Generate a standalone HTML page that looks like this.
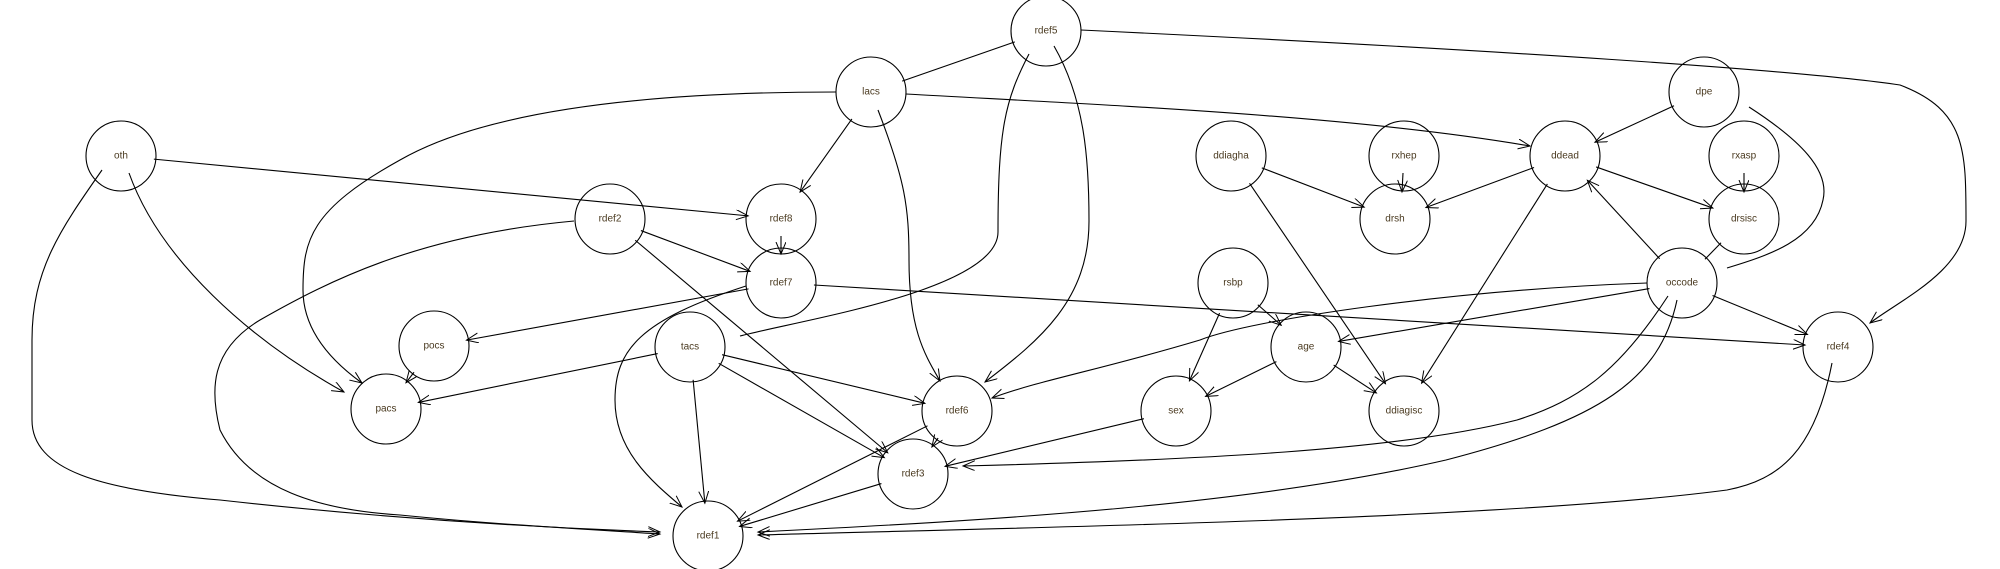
<!DOCTYPE html>
<html><head><meta charset="utf-8"><style>
html,body{margin:0;padding:0;background:#fff;width:2000px;height:569px;overflow:hidden}
svg{display:block}
text{font-family:"Liberation Sans",sans-serif;font-size:10px;fill:#4a3a20;text-anchor:middle;dominant-baseline:middle}
</style></head><body>
<svg id="g" width="2000" height="569" viewBox="0 0 2000 569">
<defs><marker id="a" markerUnits="userSpaceOnUse" markerWidth="14" markerHeight="12" refX="12" refY="5" orient="auto"><path d="M0,0 L12,5 L0,10" fill="none" stroke="#000" stroke-width="1"/></marker></defs>
<g id="edges" fill="none" stroke="#000" stroke-width="1.1">
<path d="M1081,30 C1500,50 1800,70 1900,85 C1966,110 1966,150 1966,221 C1966,270 1900,300 1870,323" marker-end="url(#a)"/>
<path d="M1054,46 C1085,100 1089,160 1089,221 C1089,300 1040,340 985,382" marker-end="url(#a)"/>
<path d="M1029,54 C1005,100 998,130 998,232 C998,290 800,320 740,336"/>
<path d="M836,92 C600,92 470,120 400,160 C310,210 303,240 303,290 C303,330 330,360 362,383" marker-end="url(#a)"/>
<path d="M878,110 C905,180 909,207 909,260 C909,330 925,355 940,381" marker-end="url(#a)"/>
<path d="M906,94 C1100,105 1350,115 1530,146" marker-end="url(#a)"/>
<path d="M102,170 C60,230 32,270 32,340 L32,420 C32,470 100,490 220,500 C400,520 550,528 660,532" marker-end="url(#a)"/>
<path d="M574,221 C420,235 330,280 260,320 C210,350 210,390 220,430 C250,490 320,510 400,515 C500,525 600,530 660,534" marker-end="url(#a)"/>
<path d="M746,286 C640,320 615,350 615,400 C615,450 650,480 682,507" marker-end="url(#a)"/>
<path d="M129,173 C160,260 250,340 344,392" marker-end="url(#a)"/>
<path d="M1749,107 C1800,140 1830,170 1823,200 C1815,240 1770,255 1727,268"/>
<path d="M1647,283 C1450,290 1250,320 1200,340 C1100,370 1040,380 992,398" marker-end="url(#a)"/>
<path d="M1668,296 C1620,370 1580,400 1517,420 C1400,450 1200,460 963,466" marker-end="url(#a)"/>
<path d="M1677,300 C1660,380 1600,420 1446,460 C1250,505 1000,520 758,532" marker-end="url(#a)"/>
<path d="M1832,363 C1815,450 1780,480 1727,490 C1500,520 1000,528 758,535" marker-end="url(#a)"/>
<line x1="781" y1="236" x2="781" y2="254" marker-end="url(#a)"/>
<line x1="1403" y1="173" x2="1402" y2="192" marker-end="url(#a)"/>
<line x1="1744" y1="173" x2="1744" y2="192" marker-end="url(#a)"/>
</g>
<g id="nodes" fill="none" stroke="#000" stroke-width="1.1">
<ellipse cx="1046" cy="31" rx="35" ry="35"/><ellipse cx="871" cy="92" rx="35" ry="35"/>
<ellipse cx="121" cy="156" rx="35" ry="35"/><ellipse cx="610" cy="219" rx="35" ry="35"/>
<ellipse cx="781" cy="219" rx="35" ry="35"/><ellipse cx="781" cy="283" rx="35" ry="35"/>
<ellipse cx="434" cy="346" rx="35" ry="35"/><ellipse cx="386" cy="409" rx="35" ry="35"/>
<ellipse cx="690" cy="347" rx="35" ry="35"/><ellipse cx="957" cy="411" rx="35" ry="35"/>
<ellipse cx="913" cy="474" rx="35" ry="35"/><ellipse cx="708" cy="536" rx="35" ry="35"/>
<ellipse cx="1231" cy="156" rx="35" ry="35"/><ellipse cx="1404" cy="156" rx="35" ry="35"/>
<ellipse cx="1395" cy="219" rx="35" ry="35"/><ellipse cx="1565" cy="156" rx="35" ry="35"/>
<ellipse cx="1704" cy="92" rx="35" ry="35"/><ellipse cx="1744" cy="156" rx="35" ry="35"/>
<ellipse cx="1744" cy="219" rx="35" ry="35"/><ellipse cx="1233" cy="283" rx="35" ry="35"/>
<ellipse cx="1682" cy="283" rx="35" ry="35"/><ellipse cx="1306" cy="347" rx="35" ry="35"/>
<ellipse cx="1838" cy="347" rx="35" ry="35"/><ellipse cx="1176" cy="411" rx="35" ry="35"/>
<ellipse cx="1404" cy="411" rx="35" ry="35"/>
</g>
<g>
<text x="1046" y="31">rdef5</text><text x="871" y="92">lacs</text><text x="121" y="156">oth</text>
<text x="610" y="219">rdef2</text><text x="781" y="219">rdef8</text><text x="781" y="283">rdef7</text>
<text x="434" y="346">pocs</text><text x="386" y="409">pacs</text><text x="690" y="347">tacs</text>
<text x="957" y="411">rdef6</text><text x="913" y="474">rdef3</text><text x="708" y="536">rdef1</text>
<text x="1231" y="156">ddiagha</text><text x="1404" y="156">rxhep</text><text x="1395" y="219">drsh</text>
<text x="1565" y="156">ddead</text><text x="1704" y="92">dpe</text><text x="1744" y="156">rxasp</text>
<text x="1744" y="219">drsisc</text><text x="1233" y="283">rsbp</text><text x="1682" y="283">occode</text>
<text x="1306" y="347">age</text><text x="1838" y="347">rdef4</text><text x="1176" y="411">sex</text>
<text x="1404" y="411">ddiagisc</text>
</g>
</svg>
<script>
var N={rdef5:[1046,31],lacs:[871,92],oth:[121,156],rdef2:[610,219],rdef8:[781,219],rdef7:[781,283],pocs:[434,346],pacs:[386,409],tacs:[690,347],rdef6:[957,411],rdef3:[913,474],rdef1:[708,536],ddiagha:[1231,156],rxhep:[1404,156],drsh:[1395,219],ddead:[1565,156],dpe:[1704,92],rxasp:[1744,156],drsisc:[1744,219],rsbp:[1233,283],occode:[1682,283],age:[1306,347],rdef4:[1838,347],sex:[1176,411],ddiagisc:[1404,411]};
var E=[["lacs","rdef5",0],["lacs","rdef8",1],["oth","rdef8",1],["rdef2","rdef7",1],["rdef2","rdef3",1],["rdef7","pocs",1],["rdef7","rdef4",1],["pocs","pacs",1],["tacs","pacs",1],["tacs","rdef6",1],["tacs","rdef3",1],["tacs","rdef1",1],["rdef6","rdef3",1],["rdef6","rdef1",1],["rdef3","rdef1",1],["ddiagha","drsh",1],["ddiagha","ddiagisc",1],["ddead","drsh",1],["ddead","drsisc",1],["ddead","ddiagisc",1],["dpe","ddead",1],["drsisc","occode",0],["occode","ddead",1],["occode","rdef4",1],["occode","age",1],["rsbp","age",1],["rsbp","sex",1],["age","sex",1],["age","ddiagisc",1],["sex","rdef3",1]];
var g=document.getElementById("edges"),ns="http://www.w3.org/2000/svg";
E.forEach(function(e){var a=N[e[0]],b=N[e[1]],dx=b[0]-a[0],dy=b[1]-a[1],d=Math.sqrt(dx*dx+dy*dy),ux=dx/d,uy=dy/d;
var l=document.createElementNS(ns,"line");l.setAttribute("x1",a[0]+ux*33);l.setAttribute("y1",a[1]+uy*33);l.setAttribute("x2",b[0]-ux*33);l.setAttribute("y2",b[1]-uy*33);
if(e[2])l.setAttribute("marker-end","url(#a)");g.appendChild(l);});
</script>
</body></html>
